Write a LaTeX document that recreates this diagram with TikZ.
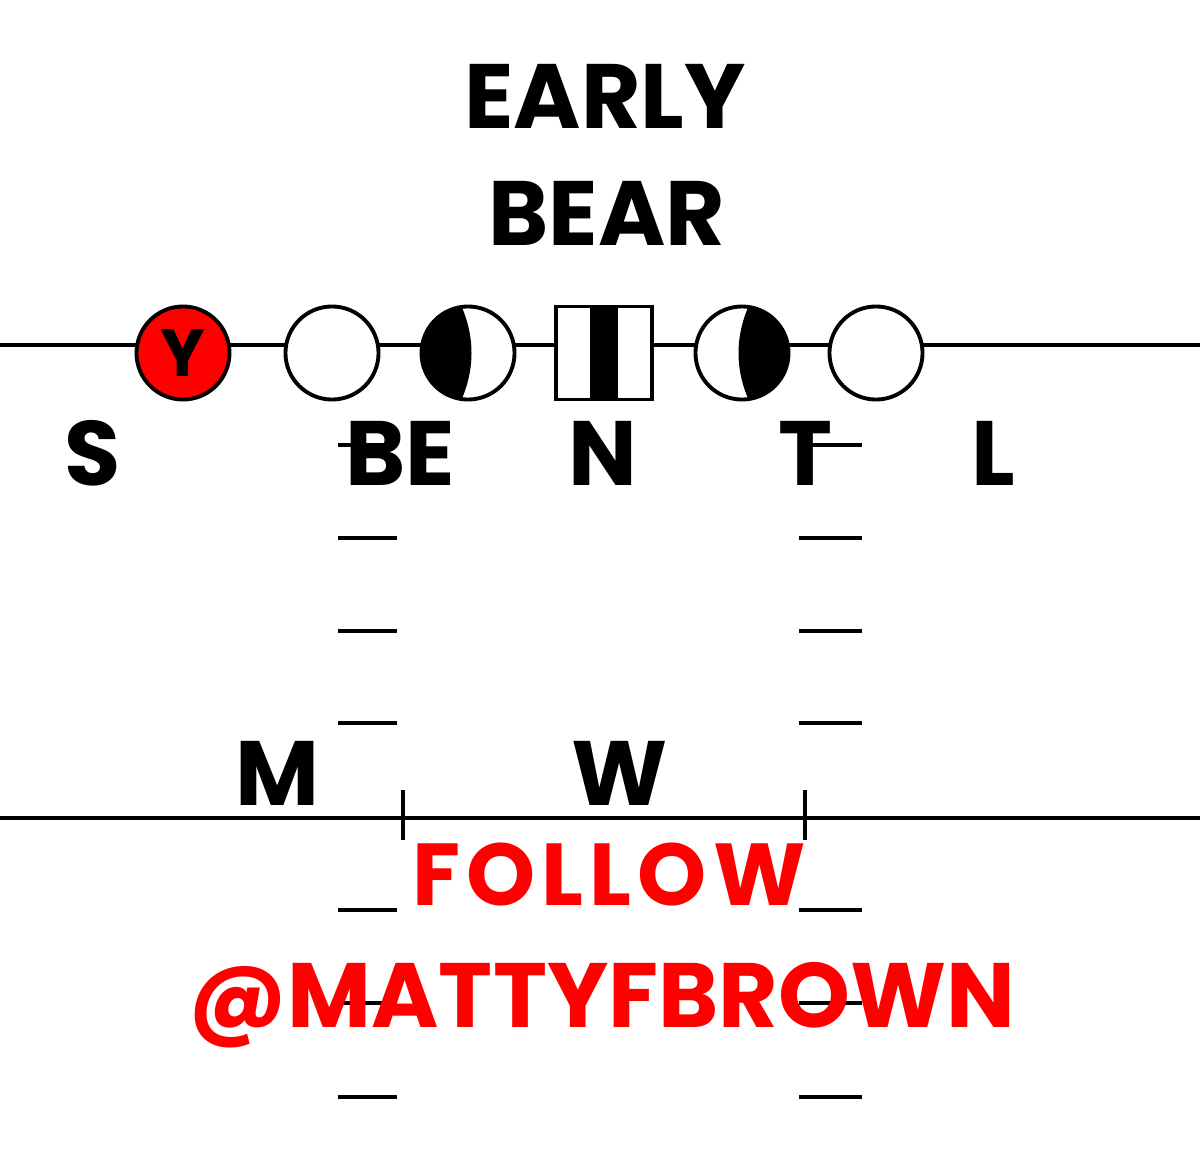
\documentclass[tikz,border=0pt]{standalone}
\usepackage{fontspec}
\usetikzlibrary{calc}
\newfontfamily\playfont{Poppins}
\newfontfamily\plugfont{Poppins}[LetterSpace=7]
\definecolor{callred}{RGB}{255,0,0}

\begin{document}
\begin{tikzpicture}[x=0.01cm, y=-0.01cm,
    tag/.style={font=\playfont\bfseries\fontsize{26}{30}\selectfont, anchor=base, inner sep=0pt},
    player/.style={circle, draw, line width=1.1pt, fill=white, minimum size=0.93cm, inner sep=0pt},
    hash/.style={line width=1.4pt}]
    \useasboundingbox (0,0) rectangle (1200,1148);

    % Heights of the two lines
    \def\losY{345}
    \def\lbY{818}

    % Hash marks, left and right
    \foreach \hy in {445,538,631,723,910,1003,1097} {
        \draw[hash] (338,\hy) -- (397,\hy);
        \draw[hash] (799,\hy) -- (862,\hy);
    }

    % Line of scrimmage
    \coordinate (losL) at (0,\losY);
    \coordinate (losR) at (1200,\losY);
    \draw[line width=0.9pt] (losL) -- (losR);

    % Linebacker line with the two ticks
    \coordinate (lbL) at (0,\lbY);
    \coordinate (lbR) at (1200,\lbY);
    \draw[line width=0.9pt] (lbL) -- (lbR);
    \coordinate (tickA) at (403,\lbY);
    \coordinate (tickB) at (805,\lbY);
    \draw[line width=0.9pt] ($(tickA)+(0,-28)$) -- ($(tickA)+(0,22)$);
    \draw[line width=0.9pt] ($(tickB)+(0,-28)$) -- ($(tickB)+(0,22)$);

    % Offensive line
    \node[player, fill=callred] (ye) at (183,353) {\playfont\bfseries\fontsize{19}{20}\selectfont Y};
    \node[player] (lt) at (332,353) {};
    \node[player] (lg) at (468,353) {};
    \node[player] (rg) at (742,353) {};
    \node[player] (rt) at (876,353) {};
    \node[rectangle, draw, line width=1.1pt, fill=white, minimum width=0.96cm, minimum height=0.93cm, inner sep=0pt] (ce) at (604,353) {};

    % black bar of the centre
    \fill ($(ce)+(-14,-45)$) rectangle ($(ce)+(14,45)$);

    % shaded halves of the guards
    \begin{scope}
        \clip (lg.center) circle[radius=0.455cm];
        \fill ($(lg)+(-60,-60)$) -- ($(lg)+(-13,-60)$) .. controls ($(lg)+(9,-20)$) and ($(lg)+(9,20)$) .. ($(lg)+(-13,60)$) -- ($(lg)+(-60,60)$) -- cycle;
    \end{scope}
    \begin{scope}
        \clip (rg.center) circle[radius=0.455cm];
        \fill ($(rg)+(60,-60)$) -- ($(rg)+(13,-60)$) .. controls ($(rg)+(-9,-20)$) and ($(rg)+(-9,20)$) .. ($(rg)+(13,60)$) -- ($(rg)+(60,60)$) -- cycle;
    \end{scope}

    % Title
    \node[tag] (early) at (605,128) {EARLY};
    \node[tag] (bear) at (607,245) {BEAR};

    % Front
    \node[tag] (s) at (93,485) {S};
    \node[tag] (be) at (400,485) {BE};
    \node[tag] (n) at (603,485) {N};
    \node[tag] (t) at (806,485) {T};
    \node[tag] (l) at (993,485) {L};

    % Linebackers
    \node[tag] (m) at (277,805) {M};
    \node[tag] (w) at (620,805) {W};

    % Plug
    \node[tag, text=callred, font=\plugfont\bfseries\fontsize{25}{30}\selectfont] (follow) at (609,905) {FOLLOW};
    \node[tag, text=callred] (handle) at (602,1027) {@MATTYFBROWN};
\end{tikzpicture}
\end{document}
